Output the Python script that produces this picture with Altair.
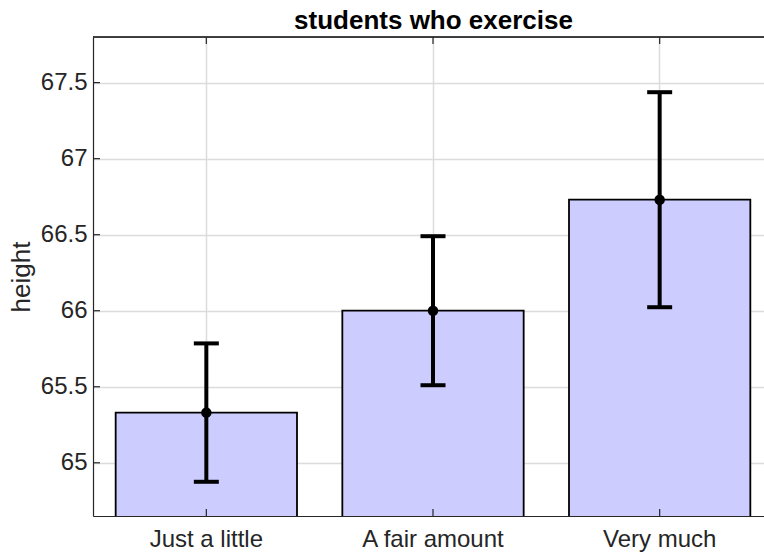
import altair as alt
import pandas as pd

# Mean height by exercise level, with error-bar half-widths
groups = ["Just a little", "A fair amount", "Very much"]
mean_height = [65.33, 66.00, 66.73]
err_half = [0.455, 0.49, 0.707]
y_ticks = [65, 65.5, 66, 66.5, 67, 67.5]

df = pd.DataFrame({
    "group": groups,
    "height": mean_height,
    "lo": [m - e for m, e in zip(mean_height, err_half)],
    "hi": [m + e for m, e in zip(mean_height, err_half)],
})
ticks_df = pd.DataFrame({"tick": y_ticks})

W, H = 671, 479
FONT = "Liberation Sans"
AX = "#262626"
GRID = "#dcdcdc"

x_scale = alt.Scale(domain=groups, range=[0, 680], paddingInner=0.2, paddingOuter=0.1)
y_scale = alt.Scale(domain=[64.65, 67.8], nice=False, zero=False)

x_enc = alt.X(
    "group:N", scale=x_scale, sort=groups, title=None,
    axis=alt.Axis(
        labelAngle=0, labelFontSize=24, labelColor=AX, labelFont=FONT, labelPadding=11,
        ticks=False, grid=True, gridColor=GRID, gridWidth=1.5, bandPosition=0.5,
        domainColor=AX, domainWidth=1.2,
    ),
)
y_enc = alt.Y(
    "height:Q", scale=y_scale, title="height",
    axis=alt.Axis(
        values=y_ticks, labelFontSize=24, labelColor=AX, labelFont=FONT, labelPadding=6,
        ticks=False, grid=True, gridColor=GRID, gridWidth=1.5,
        domainColor=AX, domainWidth=1.2,
        titleFontSize=26, titleFont=FONT, titleFontWeight="normal", titleColor=AX,
        titleX=-72, titleY=H / 2, titleAlign="center", titleBaseline="middle", titleAngle=270,
        labelExpr="datum.value",
    ),
)

base = alt.Chart(df)

bars = base.mark_bar(color="#ccccff", stroke="black", strokeWidth=1.8, clip=True).encode(
    x=x_enc, y=y_enc
)
err = base.mark_rule(color="black", strokeWidth=4).encode(
    x=alt.X("group:N", scale=x_scale, sort=groups),
    y=alt.Y("lo:Q", scale=y_scale),
    y2="hi:Q",
)
cap_lo = base.mark_tick(color="black", size=25, thickness=4, opacity=1).encode(
    x=alt.X("group:N", scale=x_scale, sort=groups),
    y=alt.Y("lo:Q", scale=y_scale),
)
cap_hi = base.mark_tick(color="black", size=25, thickness=4, opacity=1).encode(
    x=alt.X("group:N", scale=x_scale, sort=groups),
    y=alt.Y("hi:Q", scale=y_scale),
)
dots = base.mark_point(color="black", filled=True, size=110, opacity=1).encode(
    x=alt.X("group:N", scale=x_scale, sort=groups),
    y=alt.Y("height:Q", scale=y_scale),
)

# Inward-pointing tick marks on the left, top and bottom edges
y_tick_marks = alt.Chart(ticks_df).mark_rule(color=AX, strokeWidth=1.2).encode(
    y=alt.Y("tick:Q", scale=y_scale), x=alt.value(0), x2=alt.value(7)
)
top_ticks = base.mark_rule(color=AX, strokeWidth=1.2).encode(
    x=alt.X("group:N", scale=x_scale, sort=groups), y=alt.value(0), y2=alt.value(7)
)
bottom_ticks = base.mark_rule(color=AX, strokeWidth=1.2).encode(
    x=alt.X("group:N", scale=x_scale, sort=groups), y=alt.value(H - 7), y2=alt.value(H)
)
top_edge = alt.Chart(df).mark_rule(color=AX, strokeWidth=1.2).encode(
    x=alt.value(0), x2=alt.value(W), y=alt.value(0)
)

chart = alt.layer(
    bars, err, cap_lo, cap_hi, dots, y_tick_marks, top_ticks, bottom_ticks, top_edge
).properties(
    width=W,
    height=H,
    title=alt.TitleParams(
        "students who exercise", fontSize=26, fontWeight="bold", font=FONT,
        color="black", anchor="middle", offset=2, dx=5,
    ),
    autosize=alt.AutoSizeParams(type="none"),
    padding={"left": 93, "top": 37, "right": 0, "bottom": 36},
).configure_view(stroke=None).configure(background="white")

chart.save("out.html", embed_options={"renderer": "svg", "actions": False})
